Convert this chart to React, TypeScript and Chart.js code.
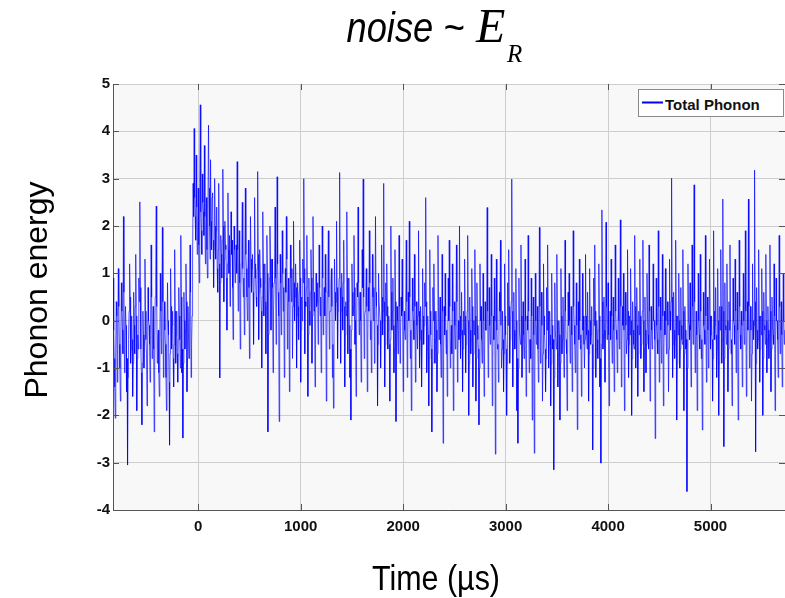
import React, { useEffect, useRef } from "react";
import { Chart, registerables } from "chart.js";

Chart.register(...registerables);

// Sampling grid of the trace (µs)
const SAMPLE_START_US = -830;
const SAMPLE_STEP_US = 5;

// Phonon energy, pre-trigger part (t = -830 .. -35 µs)
const preTriggerEnergy = [
  0.9, -0.2, -0.8, -1.4, -2.06, -0.6, 0.4, 0.1, -1.3, -0.4, 1.1, 0.3, -0.5, -1.0, -1.7, -0.3, 0.8, 0.2, -0.2, -0.7,
  2.2, 0.6, -1.1, -0.5, 0.3, -0.1, -1.5, -0.8, -3.05, -1.2, -0.4, 0.2, 1.2, 0.5, -0.9, -0.6, 0.1, -0.4, -1.6, -0.9,
  0.6, -0.1, -0.7, 0.3, 1.4, 0.1, -1.9, -0.8, -0.3, -0.6, 0.9, 0.4, 2.51, 0.7, -0.6, -1.1, -2.2, -0.9, 0.2, -0.3,
  -1.0, -0.4, 1.3, 0.2, -0.4, -0.7, -1.8, -1.0, 0.7, 0.0, -0.1, -0.5, -1.3, -0.2, 1.6, 0.5, -0.8, -0.3, 0.3, -0.6,
  -2.35, -1.0, 0.5, 0.9, 2.42, 0.3, -0.9, -0.4, -0.2, -1.1, -1.6, -0.5, 1.0, 0.2, -0.7, 0.1, 1.97, 0.4, -1.2, -0.6,
  0.4, -0.2, -0.5, -1.2, -1.9, -0.4, 0.8, 0.0, -0.3, -1.3, -2.63, -0.7, 1.1, 0.3, -0.6, -0.1, 0.2, -0.8, -1.4, -0.5,
  1.5, 0.2, -0.9, -0.3, 0.2, -0.7, -1.3, -0.4, 0.7, 0.1, -0.4, -1.0, 1.8, 0.5, -1.1, -0.6, -2.48, -0.9, 0.6, 0.0,
  -0.6, -0.2, 1.2, 0.4, -1.5, -0.8, 0.3, -0.3, -0.8, 0.2, 1.6, 0.6, -1.2, -0.5, 0.1, 1.3, 2.9, 2.2, 4.06, 2.6,
];

// Pulse and its decay (t = -30 .. 1765 µs)
const pulseEnergy = [
  2.2, 1.7, 3.5, 2.4, 1.4, 2.0, 2.8, 1.6, 0.8, 2.9, 4.56, 2.3, 1.9, 1.4, 3.1, 2.5, 2.3, 1.8, 3.7, 2.2,
  1.2, 1.9, 2.6, 1.5, 0.9, 2.4, 4.13, 2.8, 2.0, 1.3, 3.4, 2.1, 1.5, 2.6, 2.7, 1.7, 0.7, 1.5, 3.0, 2.0,
  1.3, 1.9, 2.4, 1.1, 0.6, 1.5, 2.9, 1.2, -1.21, 0.8, 1.8, 1.4, 0.9, 1.7, 3.2, 2.0, 0.4, 1.3, 2.1, 1.6,
  1.5, 0.9, -0.2, 1.2, 2.7, 1.5, 1.0, 1.8, 0.3, 1.1, 2.3, 1.4, 1.7, 0.7, -0.4, 1.0, 2.0, 1.5, 0.8, 1.2,
  1.6, 1.0, 3.36, 1.5, 0.2, 1.2, 1.9, 0.8, -0.6, 0.6, 1.2, 1.6, 2.5, 1.1, 0.5, 0.9, -0.3, 1.3, 2.8, 1.4,
  1.1, 0.5, 0.0, 1.0, 1.7, 0.7, -0.8, 0.4, 2.2, 1.3, 0.6, 1.1, 1.4, 0.6, -0.5, 0.9, 2.6, 1.2, 0.9, 0.5,
  0.3, 1.1, 3.15, 1.4, -0.4, 0.6, 1.5, 0.9, 0.7, 0.2, -1.0, 0.5, 2.3, 1.2, 0.1, 0.8, 1.2, 0.4, -0.7, 0.3,
  1.8, 1.0, -2.35, -0.3, 0.5, 0.9, 2.0, 1.3, -0.2, 0.6, 1.3, 0.7, -1.1, 0.2, 0.8, 1.1, 2.4, 0.9, -0.5, 0.4,
  3.04, 1.2, 0.6, 0.1, -2.13, -0.4, 1.4, 0.8, -0.3, 0.5, 1.9, 1.0, 0.2, 0.7, -1.2, 0.0, 1.1, 0.6, 2.2, 1.3,
  -0.6, 0.2, 0.9, 0.4, -1.5, -0.2, 1.6, 0.9, 0.4, 1.1, -0.8, 0.3, 2.1, 0.8, 0.0, 0.5, 1.2, 0.7, -1.0, 0.1,
  0.8, 0.3, -0.4, 0.6, 1.7, 0.9, -1.3, -0.2, 0.5, 0.0, 1.3, 0.8, 3.0, 1.1, -0.7, 0.4, 0.3, 0.7, 1.8, 0.5,
  -1.6, -0.3, 0.9, 0.2, -0.1, 0.6, 1.5, 0.9, -0.9, 0.1, 2.2, 1.0, 0.2, 0.6, -1.4, -0.5, 1.0, 0.3, 0.4, 0.8,
  -0.5, 0.3, 1.6, 0.7, 0.1, 0.5, -1.1, -0.2, 2.0, 0.9, -0.3, 0.4, 0.7, 0.1, 1.4, 0.6, -1.7, -0.4, 0.6, 1.0,
  1.9, 0.5, -0.6, 0.2, 0.2, 0.8, 1.1, 0.3, -1.2, -0.5, -1.85, -0.1, 1.3, 0.6, 0.0, 0.4, 2.1, 0.7, -0.8, 0.2,
  0.5, 0.9, 3.13, 0.7, -0.9, 0.2, 1.0, 0.5, -0.2, 0.8, 1.7, 0.3, -1.4, -0.3, 0.4, 0.1, 2.3, 0.9, -0.7, 0.4,
  0.9, -0.1, -1.2, -0.6, -2.1, -0.2, 1.2, 0.6, 0.1, 0.3, 1.8, 0.7, -0.5, 0.0, -1.6, -0.4, 0.8, 0.5, 2.4, 0.8,
  -0.3, 0.4, 0.6, 0.0, -1.3, -0.2, 1.5, 0.7, 2.99, 0.5, -0.8, 0.1, 0.2, 0.6, 1.1, 0.3, -1.5, -0.4, 0.7, 0.2,
  1.9, 0.8, -0.4, 0.0, -1.1, -0.3, 1.4, 0.5, 0.0, 0.7, -0.9, -0.2, 2.2, 0.6, 0.3, -0.1, -1.8, -0.5, 1.0, 0.4,
];

// Baseline tail (t = 1770 .. 5725 µs)
const tailEnergy = [
  0.4, 0.0, -1.0, -0.3, 1.6, 0.5, -0.3, 0.2, 2.9, 0.4, -1.4, -0.5, 0.8, 0.1, 1.2, 0.3, -0.6, -0.2, 0.1, -0.5,
  -1.7, -0.4, 2.0, 0.6, -0.2, 0.2, 0.9, -0.1, -1.1, -0.6, 1.5, 0.4, -2.13, -0.7, 0.3, 0.0, -0.7, -0.2, 1.8, 0.3,
  -0.9, -0.3, 0.5, 0.1, 1.3, 0.2, -1.5, -0.6, 0.2, -0.2, -0.4, 0.3, 1.7, 0.4, -1.2, -0.5, 0.6, 0.0, 2.1, 0.5,
  -0.8, -0.2, -1.9, -0.7, 0.9, 0.2, 0.0, -0.4, 1.4, 0.3, -1.3, -0.6, 0.4, -0.1, -0.6, 0.1, 1.9, 0.2, -1.0, -0.4,
  0.3, -0.2, -1.4, -0.5, 1.1, 0.1, -0.5, -0.1, 0.8, 0.3, 2.6, 0.4, -1.1, -0.6, 0.1, -0.3, -1.8, -0.8, 1.5, 0.2,
  -0.3, -0.6, -2.35, -0.9, 0.7, 0.0, 1.2, 0.2, -0.9, -0.4, 0.2, -0.2, -1.5, -0.7, 1.8, 0.3, -0.4, -0.1, 0.5, -0.5,
  -1.2, -0.4, 1.4, 0.2, -2.59, -0.8, 0.3, -0.3, 1.0, 0.1, -0.7, -0.2, -1.6, -0.6, 0.9, 0.0, 1.7, 0.3, -1.0, -0.5,
  -0.1, -0.7, 1.2, 0.2, -1.9, -0.9, 0.4, -0.1, -0.6, -0.3, 1.6, 0.4, -1.3, -0.6, 0.0, -0.4, 2.0, 0.1, -0.8, -0.3,
  0.6, -0.2, -1.5, -0.6, 0.2, -0.3, 1.3, 0.1, -1.1, -0.5, -0.3, 0.2, 1.8, 0.0, -2.0, -0.9, 0.5, -0.2, -0.7, -0.4,
  1.1, 0.3, -1.4, -0.7, 0.0, -0.3, 1.5, 0.1, -1.7, -0.8, 0.8, -0.1, -0.4, -0.6, -2.2, -1.0, 1.2, 0.0, 0.3, -0.4,
  -0.9, -0.5, 1.0, 0.0, -1.6, -0.7, 0.4, -0.2, -0.2, 0.3, 2.39, 0.2, -1.2, -0.6, 0.7, -0.1, -0.5, -0.3, 1.4, 0.1,
  -1.8, -0.8, 0.1, -0.4, 0.9, 0.0, -2.82, -1.1, 1.3, -0.2, -0.6, -0.5, -1.3, -0.3, 0.6, 0.2, 1.7, -0.1, -1.0, -0.6,
  0.2, -0.4, -1.5, -0.7, 1.2, 0.1, -0.3, -0.6, -2.0, -0.9, 0.8, -0.1, 1.5, 0.3, -0.9, -0.4, 0.0, 0.4, 2.99, 0.2,
  -1.4, -0.6, 0.6, -0.2, -0.6, -0.3, 1.1, 0.0, -1.9, -0.8, -2.59, -1.0, 0.9, -0.2, -0.2, -0.5, 1.6, 0.1, -1.2, -0.7,
  0.4, -0.3, -0.8, -0.5, 1.3, 0.0, -1.6, -0.6, 0.1, -0.2, 1.8, 0.2, -1.1, -0.4, -0.4, -0.8, 0.9, 0.1, -2.1, -1.0,
  0.5, -0.3, -2.8, -1.2, 1.0, 0.0, -0.5, -0.2, 0.3, -0.6, -1.3, -0.4, 1.97, 0.3, -0.9, -0.5, 0.6, -0.1, -1.7, -0.7,
  1.2, 0.1, -0.3, -0.6, -1.5, -0.8, 0.7, -0.2, 1.6, 0.2, -1.0, -0.5, 0.2, -0.3, -1.8, -0.9, 1.0, -0.1, -0.6, -0.4,
  -3.15, -1.2, 0.8, -0.2, -0.2, -0.6, 1.4, 0.0, -1.4, -0.7, 0.0, -0.3, -2.1, -0.9, 1.1, 0.1, -0.7, -0.4, 0.5, -0.2,
  -1.2, -0.6, 1.7, 0.2, -0.4, -0.7, -1.9, -0.9, 0.6, -0.1, 1.0, 0.0, -0.9, -0.4, 0.3, -0.3, -1.5, -0.6, 1.9, 0.3,
  -0.1, -0.5, -1.1, -0.2, 0.8, -0.1, -2.3, -1.0, 0.4, -0.4, 1.3, 0.0, -0.6, -0.3, -1.6, -0.8, 1.0, -0.2, 0.1, -0.5,
  -1.0, -0.4, 1.4, 0.1, -0.3, -0.6, 0.6, -0.2, -1.7, -0.7, 1.1, 0.0, -0.5, -0.3, 0.3, -0.5, -2.73, -1.0, 0.9, -0.1,
  1.6, 0.2, -1.2, -0.6, 0.0, -0.4, -0.8, -0.2, 1.2, 0.1, -1.4, -0.8, -3.01, -0.5, 2.34, 0.4, -0.6, -0.3, 0.5, -0.2,
  -1.3, -0.2, 2.08, 0.3, -0.4, -0.1, 0.8, -0.3, -1.8, -0.7, 0.2, -0.4, 1.3, 0.1, -0.9, -0.5, 0.5, -0.2, -1.5, -0.6,
  1.6, 0.2, -0.2, -0.4, -1.1, -0.6, 0.9, 0.0, -0.6, -0.3, 2.13, 0.3, -1.4, -0.5, 0.3, -0.1, 1.0, -0.2, -1.9, -0.8,
  0.6, -0.1, -0.7, -0.4, 1.5, 0.2, -1.2, -0.5, 0.1, -0.3, 1.1, 0.0, -2.0, -0.8, 0.4, -0.2, -0.5, -0.6, 1.8, 0.3,
  -1.0, -0.4, 0.7, -0.1, -1.6, -0.7, 0.2, -0.3, 1.3, 0.1, -0.8, -0.5, -0.1, 0.2, 1.7, 0.0, -1.5, -0.6, 0.5, -0.2,
  -1.1, -0.5, 1.0, 0.1, -0.3, -0.6, 1.6, 0.2, -1.7, -0.8, 0.3, -0.2, -0.6, -0.3, 1.2, 0.0, 0.0, -0.4, -2.49, -0.9,
  0.9, -0.1, -0.4, -0.7, 1.9, 0.3, -1.3, -0.5, 0.5, -0.2, -0.9, -0.4, 1.4, 0.1, -1.8, -0.6, 0.2, -0.3, 1.1, 0.0,
  -0.7, -0.3, 0.4, -0.1, -1.5, -0.6, 1.3, 0.2, -0.2, 0.4, 3.01, 0.5, -1.2, -0.5, 0.6, -0.2, -0.8, -0.4, 1.7, 0.1,
  -2.1, -0.9, 0.1, -0.3, 1.0, 0.0, -1.0, -0.6, 0.7, -0.1, -0.4, -0.5, 1.5, 0.2, -1.9, -0.7, 0.3, -0.2, -0.6, -0.4,
  -3.61, -1.0, 1.2, 0.0, -0.1, -0.4, 0.8, -0.2, -1.4, -0.6, 1.6, 0.3, -0.5, 0.1, 2.87, 0.4, -1.1, -0.5, 0.2, -0.3,
  -1.9, -0.8, 1.0, 0.0, -0.3, -0.6, 1.4, 0.2, -0.8, -0.4, -2.31, -0.9, 0.6, -0.1, -0.2, -0.5, 1.8, 0.1, -1.3, -0.6,
  0.5, -0.2, -1.0, -0.5, 1.3, 0.1, -0.6, -0.3, 0.1, -0.4, -1.7, -0.8, 1.9, 0.2, -0.4, -0.1, 0.7, -0.3, -1.2, -0.6,
  1.1, 0.0, -2.0, -0.9, 0.3, -0.2, 1.5, 0.3, -0.9, -0.4, 2.57, 0.2, -2.66, -0.8, 0.8, -0.1, -0.2, -0.5, 1.2, 0.0,
  -1.5, -0.6, 0.4, -0.2, 1.6, 0.1, -0.7, -0.4, -1.8, -0.7, 0.9, 0.0, -0.1, -0.5, 1.3, 0.2, -1.1, -0.3, 0.6, -0.2,
  -2.1, -0.9, 1.7, 0.3, -0.3, -0.6, 0.2, -0.1, -1.4, -0.5, 1.0, 0.0, -0.5, -0.3, 1.9, 0.2, -1.6, -0.7, 0.4, -0.2,
  2.57, 0.3, -1.0, -0.4, 0.3, -0.2, -1.7, -0.7, 1.2, 0.0, -0.4, -0.1, 3.18, 0.4, -2.77, -0.9, 0.7, -0.2, -0.6, -0.4,
  1.5, 0.1, -1.3, -0.6, 0.1, -0.3, 1.1, 0.2, -2.0, -0.8, 0.6, -0.1, -0.2, -0.5, 1.4, 0.0, -1.1, -0.4, 0.3, -0.2,
  -0.8, -0.3, 1.6, 0.2, -1.5, -0.6, 0.5, -0.1, -0.3, -0.5, 1.2, 0.1, -1.9, -0.7, 0.9, 0.0, 0.0, -0.4, -1.2, -0.5,
  1.8, 0.3, -0.7, -0.2, 0.4, -0.3, -1.4, -0.6, 1.0, 0.0, -0.5, -0.2,
];

const xTickValues = [0, 1000, 2000, 3000, 4000, 5000];
const yTickValues = [-4, -3, -2, -1, 0, 1, 2, 3, 4, 5];
const X_MIN = -832;
const X_MAX = 5727;
const SERIES_LABEL = "Total Phonon";

const tickFont = { family: "'Liberation Sans', Arial, sans-serif", size: 15, weight: "bold" as const };

const frameDecor = {
  id: "frameDecor",
  beforeDraw(chart: any) {
    const { ctx, chartArea: a } = chart;
    ctx.save();
    ctx.fillStyle = "#f8f8f8";
    ctx.fillRect(a.left, a.top, a.right - a.left, a.bottom - a.top);
    ctx.restore();
  },
  afterDatasetsDraw(chart: any) {
    const { ctx, chartArea: a, scales } = chart;
    ctx.save();
    ctx.strokeStyle = "#555";
    ctx.lineWidth = 1;
    ctx.beginPath();
    for (const t of scales.x.ticks) {
      const px = Math.round(scales.x.getPixelForValue(t.value)) + 0.5;
      ctx.moveTo(px, a.bottom);
      ctx.lineTo(px, a.bottom - 6);
      ctx.moveTo(px, a.top);
      ctx.lineTo(px, a.top + 6);
    }
    for (const t of scales.y.ticks) {
      const py = Math.round(scales.y.getPixelForValue(t.value)) + 0.5;
      ctx.moveTo(a.left, py);
      ctx.lineTo(a.left + 6, py);
      ctx.moveTo(a.right, py);
      ctx.lineTo(a.right - 6, py);
    }
    ctx.stroke();
    ctx.restore();
  },
};

export default function App() {
  const canvasRef = useRef<HTMLCanvasElement | null>(null);

  useEffect(() => {
    const energy = [...preTriggerEnergy, ...pulseEnergy, ...tailEnergy];
    const points = energy.map((v, i) => ({ x: SAMPLE_START_US + i * SAMPLE_STEP_US, y: v }));
    const chart = new Chart(canvasRef.current as HTMLCanvasElement, {
      type: "line",
      data: {
        datasets: [
          {
            label: SERIES_LABEL,
            data: points,
            borderColor: "rgba(0,0,255,0.85)",
            borderWidth: 0.8,
            pointRadius: 0,
            tension: 0,
            fill: false,
          },
        ],
      },
      options: {
        animation: false,
        responsive: false,
        maintainAspectRatio: false,
        layout: { padding: { left: 73, top: 84, right: 0, bottom: 0 } },
        plugins: { legend: { display: false }, tooltip: { enabled: false }, title: { display: false } },
        scales: {
          x: {
            type: "linear",
            min: X_MIN,
            max: X_MAX,
            afterBuildTicks: (s: any) => {
              s.ticks = xTickValues.map((v) => ({ value: v }));
            },
            afterFit: (s: any) => {
              s.height = 88;
            },
            grid: { color: "#cdcdcd", lineWidth: 1, drawTicks: false },
            border: { display: true, color: "#555", width: 1 },
            ticks: {
              font: tickFont,
              color: "#111",
              padding: 8,
              maxRotation: 0,
              autoSkip: false,
              callback: (v: any) => String(v),
            },
          },
          y: {
            type: "linear",
            min: -4,
            max: 5,
            afterBuildTicks: (s: any) => {
              s.ticks = yTickValues.map((v) => ({ value: v }));
            },
            afterFit: (s: any) => {
              s.width = 40;
            },
            grid: { color: "#cdcdcd", lineWidth: 1, drawTicks: false },
            border: { display: true, color: "#555", width: 1 },
            ticks: { font: tickFont, color: "#111", padding: 3, autoSkip: false, callback: (v: any) => String(v) },
          },
        },
      },
      plugins: [frameDecor],
    });
    return () => chart.destroy();
  }, []);

  const sans = "'Liberation Sans', Arial, sans-serif";
  const serif = "'Liberation Serif', 'Times New Roman', serif";

  return (
    <div style={{ position: "fixed", left: 0, top: 0, width: 785, height: 598, background: "#fff" }}>
      <canvas ref={canvasRef} width={785} height={598} style={{ position: "absolute", left: 0, top: 0 }} />
      <svg width={785} height={598} style={{ position: "absolute", left: 0, top: 0, pointerEvents: "none" }}>
        <text
          transform="translate(346.5,42) scale(1,1.2)"
          fontFamily={sans}
          fontStyle="italic"
          fontSize={36}
          textLength={118}
          lengthAdjust="spacingAndGlyphs"
          fill="#000"
        >
          noise ~
        </text>
        <text x={476} y={42} fontFamily={serif} fontStyle="italic" fontSize={48} fill="#000">
          E
        </text>
        <text x={507} y={62} fontFamily={serif} fontStyle="italic" fontSize={25} fill="#000">
          R
        </text>
        <text transform="translate(47,290) rotate(-90)" textAnchor="middle" fontFamily={sans} fontSize={32} fill="#000">
          Phonon energy
        </text>
        <text
          transform="translate(436,590) scale(1,1.17)"
          textAnchor="middle"
          fontFamily={sans}
          fontSize={30}
          textLength={128}
          lengthAdjust="spacingAndGlyphs"
          fill="#000"
        >
          Time (µs)
        </text>
        <rect x={638.5} y={89.5} width={145} height={27} fill="#fff" stroke="#8a8a8a" strokeWidth={1} />
        <line x1={642} y1={102.5} x2={663} y2={102.5} stroke="#0000ff" strokeWidth={2} />
        <text x={665} y={110} fontFamily={sans} fontWeight="bold" fontSize={15} fill="#111">
          {SERIES_LABEL}
        </text>
      </svg>
    </div>
  );
}
